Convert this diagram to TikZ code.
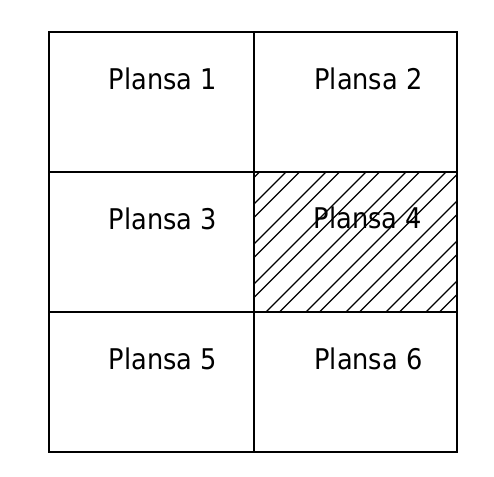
\documentclass[tikz,border=0pt]{standalone}
\usepackage{fontspec}
\setmainfont{DejaVu Sans Condensed}
\begin{document}
\begin{tikzpicture}[x=1pt,y=-1pt,
  gridline/.style={line width=2pt,black},
  hatchline/.style={line width=1.2pt,black},
  label/.style={anchor=base,inner sep=0pt,font=\fontsize{28.5}{34}\selectfont}]
\useasboundingbox (0,0) rectangle (494,476);
% hatching of cell 4
\begin{scope}
  \clip (254,172) rectangle (457,312);
  \foreach \k in {-1,...,8} {
    \draw[hatchline] ({458+40*\k-100},100) -- ({458+40*\k-400},400);
    \draw[hatchline] ({471.5+40*\k-100},100) -- ({471.5+40*\k-400},400);
  }
\end{scope}
% grid
\draw[gridline] (49,32) rectangle (457,452);
\draw[gridline] (254,32) -- (254,452);
\draw[gridline] (49,172) -- (457,172);
\draw[gridline] (49,312) -- (457,312);
% labels
\node[label] (p1) at (163,89) {Plansa 1};
\node[label] (p2) at (368.5,89) {Plansa 2};
\node[label] (p3) at (163,229) {Plansa 3};
\node[label] (p4) at (368,228.5) {Plansa 4};
\node[label] (p5) at (163,369) {Plansa 5};
\node[label] (p6) at (368.5,369) {Plansa 6};
\end{tikzpicture}
\end{document}
